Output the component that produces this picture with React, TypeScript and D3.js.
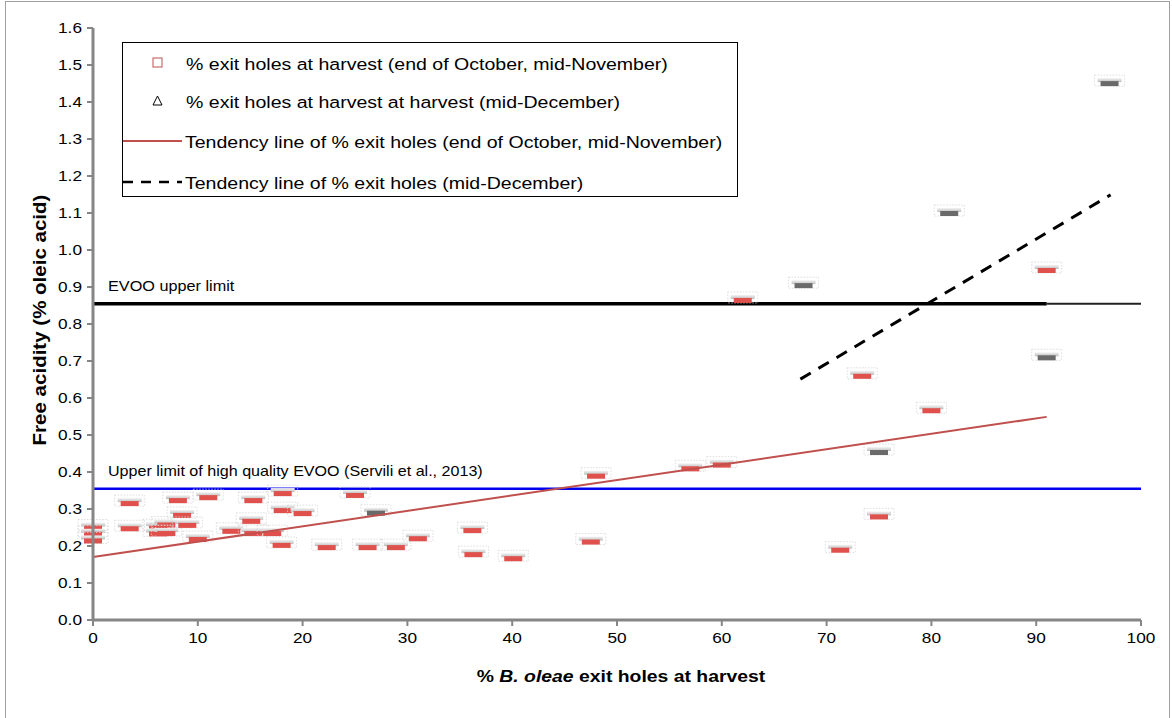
import React from "react";
import * as d3 from "d3";

// % exit holes vs free acidity, harvest end of October / mid-November
const earlyX = [0, 0, 0, 3.5, 3.5, 6.2, 7, 6.2, 7, 8.1, 8.5, 9, 10, 11, 13.2, 15.1, 15.3, 15.3, 17.1, 18.1, 18.1, 18, 20, 22.3, 25, 26.2, 28.9, 31, 36.2, 36.3, 40.1, 47.5, 48, 57, 60, 62, 71.3, 73.4, 75, 80, 91];
const earlyY = [0.25, 0.233, 0.215, 0.316, 0.248, 0.251, 0.258, 0.234, 0.235, 0.324, 0.284, 0.257, 0.219, 0.332, 0.241, 0.268, 0.235, 0.324, 0.235, 0.343, 0.297, 0.203, 0.289, 0.197, 0.338, 0.197, 0.197, 0.221, 0.243, 0.178, 0.167, 0.212, 0.39, 0.41, 0.42, 0.865, 0.19, 0.66, 0.28, 0.567, 0.946];
// harvest mid-December
const lateX = [27, 67.8, 75, 81.7, 91, 97];
const lateY = [0.29, 0.905, 0.454, 1.1, 0.71, 1.451];

// tendency lines (endpoints)
const trendEarlyX = [0, 91];
const trendEarlyY = [0.17, 0.549];
const trendLateX = [67.5, 97.1];
const trendLateY = [0.651, 1.149];

const evooLimit = 0.855;
const highQualityLimit = 0.355;

const xTicks = [0, 10, 20, 30, 40, 50, 60, 70, 80, 90, 100];
const yTicks = [0, 0.1, 0.2, 0.3, 0.4, 0.5, 0.6, 0.7, 0.8, 0.9, 1.0, 1.1, 1.2, 1.3, 1.4, 1.5, 1.6];

const legendLabels = [
  "% exit holes at harvest (end of October, mid-November)",
  "% exit holes at harvest at harvest (mid-December)",
  "Tendency line of % exit holes (end of October, mid-November)",
  "Tendency line of % exit holes (mid-December)",
];

const W = 1172;
const H = 718;
const FONT = "'Liberation Sans', Arial, sans-serif";
const RED = "#c0504d";
const AXIS = "#868686";

// text with a wider set width
function Wide({ x, y, sx = 1.15, rotate = 0, anchor = "start", size, bold = false, children }: any) {
  return (
    <text
      transform={`translate(${x},${y}) rotate(${rotate}) scale(${sx},1)`}
      textAnchor={anchor}
      fontSize={size}
      fontWeight={bold ? "bold" : "normal"}
      fill="#000"
    >
      {children}
    </text>
  );
}

export default function App() {
  const x = d3.scaleLinear().domain([0, 100]).range([93, 1141]);
  const y = d3.scaleLinear().domain([0, 1.6]).range([620, 28]);
  const line = d3.line<[number, number]>().x((d) => x(d[0])).y((d) => y(d[1]));

  const marker = (px: number, py: number, bar: string, key: string) => {
    const cx = x(px);
    const cy = y(py);
    return (
      <g key={key}>
        <rect x={cx - 15} y={cy - 8} width={30} height={11} fill="none" stroke="#d4d4d4" strokeWidth={0.8} strokeDasharray="1.5,1.5" />
        <rect x={cx - 12} y={cy - 5} width={24} height={4} fill="url(#haze)" />
        <rect x={cx - 9} y={cy - 2} width={18} height={5} fill={bar} />
      </g>
    );
  };

  return (
    <svg width={W} height={H} style={{ position: "absolute", left: 0, top: 0, background: "#fff" }} fontFamily={FONT}>
      <defs>
        <linearGradient id="haze" x1="0" x2="0" y1="0" y2="1">
          <stop offset="0" stopColor="#f4f4f4" />
          <stop offset="1" stopColor="#bdbdbd" />
        </linearGradient>
      </defs>
      <rect x={5.5} y={1.5} width={1164} height={730} fill="none" stroke="#a0a0a0" strokeWidth={1} />

      {/* reference limits */}
      <line x1={x(0)} x2={x(91)} y1={y(evooLimit)} y2={y(evooLimit)} stroke="#000" strokeWidth={3.5} />
      <line x1={x(91)} x2={x(100)} y1={y(evooLimit)} y2={y(evooLimit)} stroke="#222" strokeWidth={2} />
      <Wide x={108} y={y(evooLimit) - 13} size={14} sx={1.16}>EVOO upper limit</Wide>
      <line x1={x(0)} x2={x(100)} y1={y(highQualityLimit)} y2={y(highQualityLimit)} stroke="#0000ee" strokeWidth={2.5} />
      <Wide x={108} y={y(highQualityLimit) - 13} size={14} sx={1.15}>Upper limit of high quality EVOO (Servili et al., 2013)</Wide>

      {/* markers */}
      {earlyX.map((v, i) => marker(v, earlyY[i], "#e0504c", `e${i}`))}
      {lateX.map((v, i) => marker(v, lateY[i], "#6a6a6a", `l${i}`))}

      {/* tendency lines */}
      <path d={line(trendEarlyX.map((v, i) => [v, trendEarlyY[i]]))!} fill="none" stroke={RED} strokeWidth={2} />
      <path d={line(trendLateX.map((v, i) => [v, trendLateY[i]]))!} fill="none" stroke="#000" strokeWidth={3} strokeDasharray="12,9" />

      {/* axes */}
      <line x1={x(0)} x2={x(0)} y1={y(0)} y2={y(1.6)} stroke={AXIS} strokeWidth={3} />
      <line x1={x(0)} x2={x(100)} y1={y(0)} y2={y(0)} stroke={AXIS} strokeWidth={3} />
      {yTicks.map((t) => (
        <g key={`yt${t}`}>
          <line x1={x(0) - 6} x2={x(0)} y1={y(t)} y2={y(t)} stroke={AXIS} strokeWidth={2} />
          <Wide x={82} y={y(t) + 5} anchor="end" size={15}>{t.toFixed(1)}</Wide>
        </g>
      ))}
      {xTicks.map((t) => (
        <g key={`xt${t}`}>
          <line x1={x(t)} x2={x(t)} y1={y(0)} y2={y(0) + 6} stroke={AXIS} strokeWidth={2} />
          <Wide x={x(t)} y={643} anchor="middle" size={15}>{t}</Wide>
        </g>
      ))}
      <Wide x={46} y={320} rotate={-90} anchor="middle" size={18} sx={1.14} bold>Free acidity (% oleic acid)</Wide>
      <Wide x={621} y={682} anchor="middle" size={17} sx={1.14} bold>
        % <tspan fontStyle="italic">B. oleae</tspan> exit holes at harvest
      </Wide>

      {/* legend */}
      <rect x={122.5} y={42.5} width={615} height={154} fill="#fff" stroke="#000" strokeWidth={1} />
      <rect x={153} y={58} width={9} height={9} fill="none" stroke={RED} strokeWidth={1} />
      <path d="M157.5,96 L162,105 L153,105 Z" fill="none" stroke="#000" strokeWidth={1} />
      <line x1={123} x2={182} y1={141} y2={141} stroke={RED} strokeWidth={2} />
      <line x1={123} x2={182} y1={182} y2={182} stroke="#000" strokeWidth={2.5} strokeDasharray="10,8" />
      {legendLabels.map((s, i) => (
        <Wide key={s} x={i < 2 ? 186 : 185} y={[70, 108, 148, 189][i]} size={17} sx={1.15}>{s}</Wide>
      ))}
    </svg>
  );
}
